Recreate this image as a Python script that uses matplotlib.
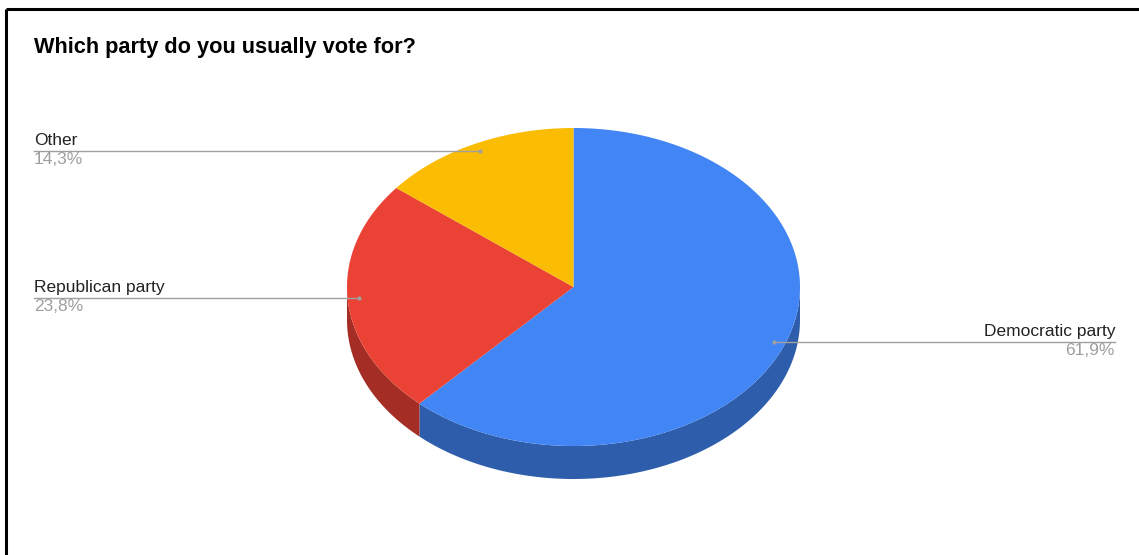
import matplotlib.pyplot as plt
import numpy as np
from matplotlib.patches import Polygon

plt.rcParams['font.family'] = ['Liberation Sans', 'DejaVu Sans']

# data
labels = ['Democratic party', 'Republican party', 'Other']
values = [61.9, 23.8, 14.3]
pct_labels = ['61,9%', '23,8%', '14,3%']
top_colors = ['#4285f4', '#ea4335', '#fbbc04']
side_colors = ['#2e5eab', '#a42d25', '#b0840a']

W, H = 1139, 555
fig = plt.figure(figsize=(W / 100, H / 100), dpi=100)
ax = fig.add_axes([0, 0, 1, 1])
ax.set_xlim(0, W)
ax.set_ylim(H, 0)
ax.axis('off')

# pie geometry in pixels (3d look: ellipse + side wall)
cx, cy = 573.5, 287
rx, ry = 226.5, 159
depth = 33


def pt(theta, f=1.0, dy=0.0):
    # theta in degrees, clockwise from 12 o'clock
    t = np.radians(theta)
    return cx + rx * f * np.sin(t), cy - ry * f * np.cos(t) + dy


fracs = np.array(values) / sum(values)
starts = np.concatenate([[0], np.cumsum(fracs)[:-1]]) * 360
ends = np.cumsum(fracs) * 360

# side walls (front half only, 90..270 deg)
for s, e, c in zip(starts, ends, side_colors):
    a0, a1 = max(s, 90), min(e, 270)
    if a1 <= a0:
        continue
    th = np.linspace(a0, a1, 200)
    top = [pt(t) for t in th]
    bot = [pt(t, dy=depth) for t in th[::-1]]
    ax.add_patch(Polygon(top + bot, closed=True, facecolor=c, edgecolor='none'))

# top faces
for s, e, c in zip(starts, ends, top_colors):
    th = np.linspace(s, e, 300)
    poly = [(cx, cy)] + [pt(t) for t in th]
    ax.add_patch(Polygon(poly, closed=True, facecolor=c, edgecolor='none'))

# leader lines and labels
for s, e, lab, pct in zip(starts, ends, labels, pct_labels):
    mid = (s + e) / 2
    x0, y0 = pt(mid, 0.95)
    if np.sin(np.radians(mid)) >= 0:
        xe, ha = 1115, 'right'
    else:
        xe, ha = 34, 'left'
    ax.plot([x0, xe], [y0, y0], color='#a0a0a0', lw=1.0)
    ax.plot([x0], [y0], 'o', color='#a0a0a0', ms=2)
    ax.text(xe, y0 - 3, lab, ha=ha, va='bottom', fontsize=12.5, color='#222222')
    ax.text(xe, y0 + 1, pct, ha=ha, va='top', fontsize=12.5, color='#9e9e9e')

ax.text(34, 47, 'Which party do you usually vote for?', ha='left', va='center',
        fontsize=15.7, fontweight='bold', color='#000000')

# frame lines (top and left only)
ax.plot([6, W], [9, 9], color='black', lw=2.2, solid_capstyle='butt')
ax.plot([6, 6], [9, H], color='black', lw=2.2, solid_capstyle='butt')

fig.savefig('out.png', dpi=100)
